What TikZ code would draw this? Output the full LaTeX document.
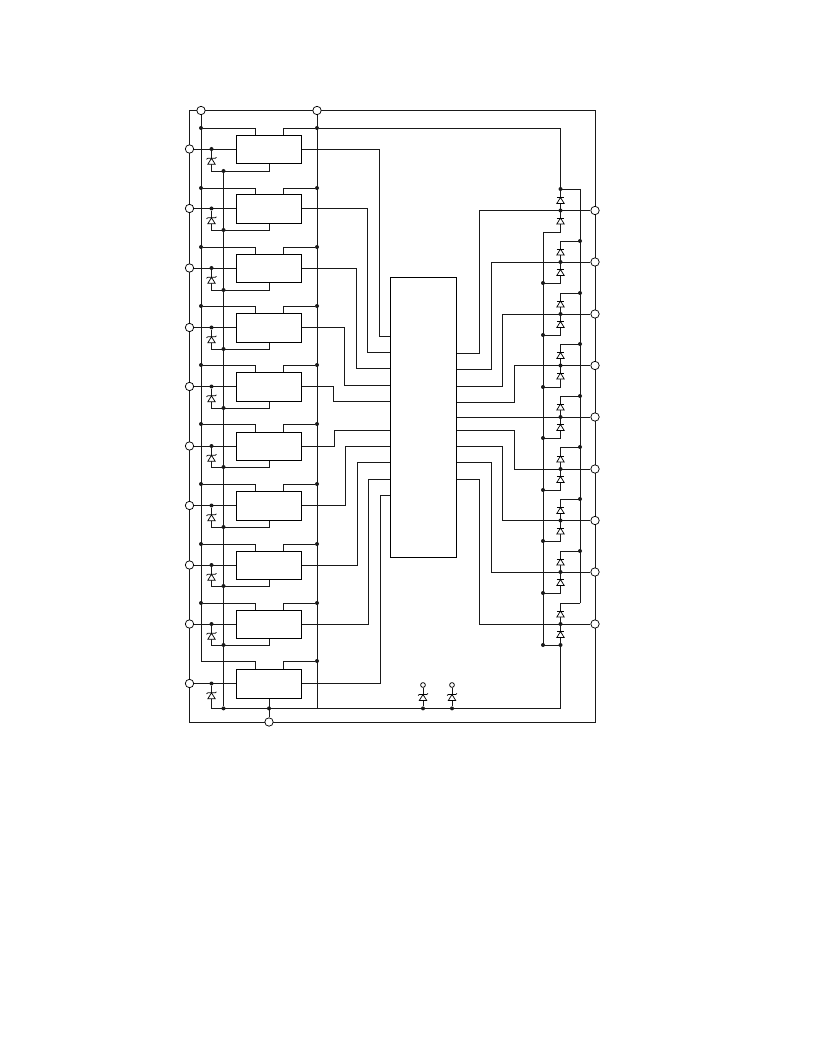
\documentclass[tikz,border=0pt]{standalone}
\usepackage{tikz}
\usetikzlibrary{backgrounds}

\begin{document}
\begin{tikzpicture}[x=0.75bp, y=-0.75bp,
    wire/.style={line width=0.55pt, black!90},
    pin/.style={circle, draw, fill=white, line width=0.55pt, minimum size=6.3bp, inner sep=0pt},
    smallpin/.style={circle, draw, fill=white, line width=0.55pt, minimum size=3.6bp, inner sep=0pt},
    dot/.style={circle, fill=black!90, minimum size=3bp, inner sep=0pt},
    block/.style={rectangle, draw, line width=0.55pt, minimum width=48.75bp, minimum height=21.5bp, inner sep=0pt},
    diode/.pic={
      \draw[line width=0.55pt, fill=white] (-3.7,3) -- (3.7,3) -- (0,-3) -- cycle;
      \draw[line width=0.55pt] (-3.7,-3) -- (3.7,-3);
    },
    zener/.pic={
      \draw[line width=0.55pt, fill=white] (-3.7,3) -- (3.7,3) -- (0,-3) -- cycle;
      \draw[line width=0.55pt] (-5,-2) -- (-3.7,-3) -- (3.7,-3) -- (5,-4);
    }
  ]
  \useasboundingbox (0,0) rectangle (816,1056);

  % Central block
  \node[rectangle, draw, line width=0.55pt, minimum width=49.5bp, minimum height=210bp, inner sep=0pt] (main) at (423,417) {};

  % Frame pins
  \node[pin] (vtop) at (201,110.5) {};
  \node[pin] (vmid) at (317,110.5) {};
  \node[pin] (gnd) at (269,722) {};
  \coordinate (frameTL) at (189.5,110.5);
  \coordinate (frameTR) at (595,110.5);
  \coordinate (frameBL) at (189.5,722);
  \coordinate (frameBR) at (595,722);
  \coordinate (railend) at (317,708.4);
  \coordinate (gndend) at (211.5,708.4);
  \coordinate (rightend) at (560.5,708.4);

  % Left stages: input pin, regulator block, zener
  \foreach \n/\y/\yt/\yb/\xr/\yc in {1/149/128/171/379/336.5, 2/208.5/188/230/367/352.5,
      3/268/247/290/356/368.5, 4/327.5/306/349/344.5/385, 5/386.5/365/408/333.5/401.5,
      6/446/424/467/334.5/430.5, 7/505.5/484/527/345.5/446.5, 8/565/544/586/357/462.5,
      9/624/603/645/368.5/479, 10/683.5/661/708.4/380.5/495} {
    \node[pin] (in\n) at (189.5,\y) {};
    \node[block] (reg\n) at (268.5,\y+0.4) {};
    \node[dot] (tap\n) at (211.5,\y) {};
    \pic at (211.5,\y+12.3) {zener};
    \node[dot] (rdot\n) at (317,\yt) {};
    \begin{scope}[on background layer]
      \draw[wire] (in\n) -- (reg\n.west |- in\n);
      \draw[wire] (reg\n.east |- in\n) -- (\xr,\y) -- (\xr,\yc) -- (main.west |- 0,\yc);
      \draw[wire] (255,\yt) -- (reg\n.north -| 255,0);
      \draw[wire] (283,\yt) -- (reg\n.north -| 283,0);
      \draw[wire] (rdot\n) -- (283,\yt);
      \draw[wire] (tap\n) -- (211.5,\yb) -- (269,\yb) -- (reg\n.south -| 269,0);
    \end{scope}
  }
  \foreach \n/\yt/\yb in {1/128/171, 2/188/230, 3/247/290, 4/306/349, 5/365/408, 6/424/467, 7/484/527, 8/544/586, 9/603/645} {
    \node[dot] (ldot\n) at (201,\yt) {};
    \node[dot] (gdot\n) at (223.5,\yb) {};
    \begin{scope}[on background layer]
      \draw[wire] (ldot\n) -- (255,\yt);
    \end{scope}
  }
  \node[dot] (gdot10) at (223.5,708.4) {};
  \node[dot] (gdot11) at (269,708.4) {};

  % Two spare zeners at the bottom
  \foreach \n/\x in {1/423, 2/452} {
    \node[smallpin] (spare\n) at (\x,685) {};
    \node[dot] (sdot\n) at (\x,708.4) {};
    \pic at (\x,697.5) {zener};
    \begin{scope}[on background layer]
      \draw[wire] (spare\n) -- (sdot\n);
    \end{scope}
  }

  % Right stages: output pin and diode pair
  \foreach \m/\y/\yt/\yb/\xr/\yc in {1/210.5/189/232/479.5/353, 2/262/241/283/491.5/369.5,
      3/314/293/335/502.5/386, 4/365.5/344/387/514.5/402, 6/469/447/490/514.5/430.5,
      7/520.5/499/541/502.5/446.5, 8/572/551/593/491.5/462.5, 9/624/603/645/479.5/479} {
    \node[pin] (out\m) at (595,\y) {};
    \begin{scope}[on background layer]
      \draw[wire] (out\m) -- (\xr,\y) -- (\xr,\yc) -- (main.east |- 0,\yc);
    \end{scope}
  }
  \node[pin] (out5) at (595,417) {};
  \begin{scope}[on background layer]
    \draw[wire] (out5) -- (main.east |- out5);
  \end{scope}

  \foreach \m/\y/\yt/\yb in {1/210.5/189/232, 2/262/241/283, 3/314/293/335, 4/365.5/344/387,
      5/417/396/438, 6/469/447/490, 7/520.5/499/541, 8/572/551/593, 9/624/603/645} {
    \node[dot] (mid\m) at (560.5,\y) {};
    \coordinate (up\m) at (560.5,\yt);
    \coordinate (dn\m) at (560.5,\yb);
    \coordinate (hi\m) at (580,\yt);
    \coordinate (lo\m) at (543,\yb);
    \pic at (560.5,\y-10) {diode};
    \pic at (560.5,\y+10.5) {diode};
    \begin{scope}[on background layer]
      \draw[wire] (hi\m) -- (up\m) -- (dn\m) -- (lo\m);
    \end{scope}
  }
  \foreach \m in {2,...,8} {\node[dot] (hidot\m) at (hi\m) {};}
  \foreach \m in {2,...,9} {\node[dot] (lodot\m) at (lo\m) {};}
  \node[dot] (updot1) at (up1) {};
  \node[dot] (dndot9) at (dn9) {};

  % Rails and frame
  \begin{scope}[on background layer]
    \draw[wire] (frameTL) -- (frameTR) -- (frameBR) -- (frameBL) -- cycle;
    \draw[wire] (vtop) -- (201,661) -- (255,661) -- (reg10.north -| 255,0);
    \draw[wire] (vmid) -- (railend);
    \draw[wire] (gdot1) -- (gdot10);
    \draw[wire] (gndend) -- (rightend) -- (dn9);
    \draw[wire] (reg10.south -| 269,0) -- (gnd);
    \draw[wire] (rdot1) -- (560.5,128) -- (up1);
    \draw[wire] (hi1) -- (hi9);
    \draw[wire] (lo1) -- (lo9);
  \end{scope}
\end{tikzpicture}
\end{document}
